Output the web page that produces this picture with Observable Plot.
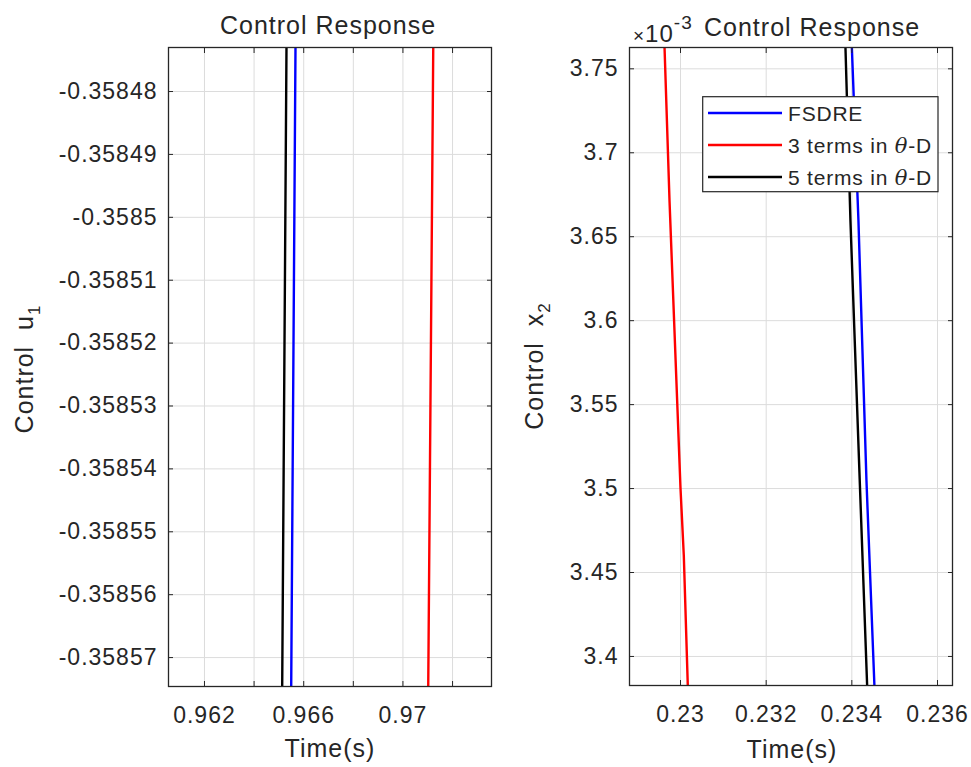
<!DOCTYPE html>
<html><head><meta charset="utf-8">
<script src="https://cdn.jsdelivr.net/npm/d3@7"></script>
<script src="https://cdn.jsdelivr.net/npm/@observablehq/plot@0.6"></script>
<style>
html,body{margin:0;padding:0;background:#fff;}
#wrap{position:relative;width:971px;height:767px;overflow:hidden;background:#fff;}
#wrap svg{position:absolute;top:0;}
svg text{letter-spacing:1px;}
</style></head><body><div id="wrap"></div>
<script>
const seriesNames = ["FSDRE", "3 terms in θ-D", "5 terms in θ-D"];
const seriesColors = ["#0000ff", "#ff0000", "#000000"];

// Left panel: Control u1 vs Time(s)
const u1Value = [-0.358473, -0.3585746];
const u1TimeFSDRE = [0.965669, 0.965496];
const u1Time3 = [0.971222, 0.971020];
const u1Time5 = [0.965306, 0.965133];
const u1XDomain = [0.96055, 0.97357];
const u1YDomain = [-0.3585746, -0.358473];
const u1XTicks = [0.962, 0.964, 0.966, 0.968, 0.970, 0.972];
const u1XTickLabels = ["0.962", "", "0.966", "", "0.97", ""];
const u1YTicks = [-0.35857, -0.35856, -0.35855, -0.35854, -0.35853, -0.35852, -0.35851, -0.3585, -0.35849, -0.35848];
const u1YTickLabels = ["-0.35857", "-0.35856", "-0.35855", "-0.35854", "-0.35853", "-0.35852", "-0.35851", "-0.3585", "-0.35849", "-0.35848"];

// Right panel: Control x2 (×10^-3) vs Time(s)
const x2ValueFSDRE = [3.7627, 3.6597, 3.5049, 3.3827];
const x2TimeFSDRE = [0.234000, 0.234154, 0.234341, 0.234527];
const x2Value3 = [3.7627, 3.6716, 3.5000, 3.4600, 3.3827];
const x2Time3 = [0.229627, 0.229743, 0.230000, 0.230077, 0.230170];
const x2Value5 = [3.7627, 3.6597, 3.5049, 3.3827];
const x2Time5 = [0.233851, 0.233967, 0.234184, 0.234357];
const x2XDomain = [0.228809, 0.23635];
const x2YDomain = [3.3827, 3.7627];
const x2XTicks = [0.230, 0.232, 0.234, 0.236];
const x2XTickLabels = ["0.23", "0.232", "0.234", "0.236"];
const x2YTicks = [3.40, 3.45, 3.50, 3.55, 3.60, 3.65, 3.70, 3.75];
const x2YTickLabels = ["3.4", "3.45", "3.5", "3.55", "3.6", "3.65", "3.7", "3.75"];

function rows(times, values, s) { return times.map((t, i) => ({t, v: values[i], s})); }

const u1Rows = [
  ...rows(u1TimeFSDRE, u1Value, seriesNames[0]),
  ...rows(u1Time3, u1Value, seriesNames[1]),
  ...rows(u1Time5, u1Value, seriesNames[2])
];
const x2Rows = [
  ...rows(x2TimeFSDRE, x2ValueFSDRE, seriesNames[0]),
  ...rows(x2Time3, x2Value3, seriesNames[1]),
  ...rows(x2Time5, x2Value5, seriesNames[2])
];

const FONT = "'Liberation Sans', Arial, Helvetica, sans-serif";
const TXT = "#262626";

function panel(o) {
  const xf = new Map(o.xTicks.map((d, i) => [d, o.xLabels[i]]));
  const yf = new Map(o.yTicks.map((d, i) => [d, o.yLabels[i]]));
  const blank = () => "";
  const svg = Plot.plot({
    width: o.width, height: 767,
    marginLeft: o.ml, marginRight: o.mr, marginTop: o.mt, marginBottom: o.mb,
    style: {fontFamily: FONT, fontSize: "23px", color: TXT, background: "transparent", overflow: "visible"},
    x: {domain: o.xDomain},
    y: {domain: o.yDomain},
    color: {domain: seriesNames, range: seriesColors},
    marks: [
      Plot.gridX(o.xTicks, {stroke: "#dcdcdc", strokeOpacity: 1}),
      Plot.gridY(o.yTicks, {stroke: "#dcdcdc", strokeOpacity: 1}),
      Plot.line(o.rows, {x: "t", y: "v", z: "s", stroke: "s", strokeWidth: 2.4, clip: true}),
      Plot.frame({stroke: TXT, strokeWidth: 1.3}),
      Plot.axisX(o.xTicks, {anchor: "bottom", tickSize: 5, dy: -5, tickFormat: blank, label: null, stroke: TXT}),
      Plot.axisX(o.xTicks, {anchor: "top", tickSize: 5, dy: 5, tickFormat: blank, label: null, stroke: TXT}),
      Plot.axisY(o.yTicks, {anchor: "left", tickSize: 5, dx: 5, tickFormat: blank, label: null, stroke: TXT}),
      Plot.axisY(o.yTicks, {anchor: "right", tickSize: 5, dx: -5, tickFormat: blank, label: null, stroke: TXT}),
      Plot.axisX(o.xTicks, {anchor: "bottom", tickSize: 0, tickPadding: 20, tickFormat: d => xf.get(d), label: null, fill: TXT, fontSize: 23}),
      Plot.axisY(o.yTicks, {anchor: "left", tickSize: 0, tickPadding: 11, tickFormat: d => yf.get(d), label: null, fill: TXT, fontSize: 23})
    ]
  });
  d3.select(svg).selectAll('g[aria-label$="tick label"]')
    .attr("font-size", 23).style("font-size", "23px").style("letter-spacing", "1px");
  return svg;
}

const wrap = document.getElementById("wrap");

const left = panel({rows: u1Rows, xDomain: u1XDomain, yDomain: u1YDomain, xTicks: u1XTicks, xLabels: u1XTickLabels,
  yTicks: u1YTicks, yLabels: u1YTickLabels, width: 500, ml: 168, mr: 9, mt: 47, mb: 81});
left.style.left = "0px";
wrap.appendChild(left);

const right = panel({rows: x2Rows, xDomain: x2XDomain, yDomain: x2YDomain, xTicks: x2XTicks, xLabels: x2XTickLabels,
  yTicks: x2YTicks, yLabels: x2YTickLabels, width: 471, ml: 129, mr: 19, mt: 47, mb: 82});
right.style.left = "500px";
wrap.appendChild(right);

function txt(sel, x, y, s, size, anchor) {
  return sel.append("text").attr("x", x).attr("y", y).attr("font-size", size)
    .attr("text-anchor", anchor || "middle").attr("fill", TXT).attr("font-family", FONT).text(s);
}

// Left annotations
const L = d3.select(left);
txt(L, 328, 34, "Control Response", 25);
txt(L, 330, 757, "Time(s)", 25);
{
  const t = L.append("text").attr("transform", "translate(33,369) rotate(-90)")
    .attr("text-anchor", "middle").attr("font-size", 25).attr("fill", TXT).attr("font-family", FONT);
  t.append("tspan").text("Control\u00a0\u00a0u");
  t.append("tspan").attr("dy", 7).attr("font-size", 17).text("1");
}

// Right annotations
const R = d3.select(right);
{
  const t = R.append("text").attr("x", 133).attr("y", 42).attr("text-anchor", "start")
    .attr("fill", TXT).attr("font-family", FONT).attr("font-size", 24);
  t.append("tspan").attr("font-size", 19).text("×");
  t.append("tspan").text("10");
  t.append("tspan").attr("dy", -13).attr("font-size", 19).text("-3");
}
txt(R, 204, 36, "Control Response", 25, "start");
txt(R, 292, 758, "Time(s)", 25);
{
  const t = R.append("text").attr("transform", "translate(43,366) rotate(-90)")
    .attr("text-anchor", "middle").attr("font-size", 25).attr("fill", TXT).attr("font-family", FONT);
  t.append("tspan").text("Control\u00a0\u00a0x");
  t.append("tspan").attr("dy", 7).attr("font-size", 17).text("2");
}
// Legend
{
  const g = R.append("g");
  g.append("rect").attr("x", 202.7).attr("y", 96.7).attr("width", 235.3).attr("height", 95)
    .attr("fill", "#fff").attr("stroke", TXT).attr("stroke-width", 1.2);
  const ys = [113, 145, 177];
  seriesNames.forEach((name, i) => {
    g.append("line").attr("x1", 208).attr("x2", 282).attr("y1", ys[i]).attr("y2", ys[i])
      .attr("stroke", seriesColors[i]).attr("stroke-width", 2.4);
    const t = g.append("text").attr("x", 288).attr("y", ys[i] + 8).attr("font-size", 21)
      .attr("text-anchor", "start").attr("fill", TXT).attr("font-family", FONT).style("letter-spacing", "0.8px");
    const parts = name.split("θ");
    t.append("tspan").text(parts[0]);
    if (parts.length > 1) {
      t.append("tspan").attr("font-style", "italic").attr("font-family", "'DejaVu Serif', serif").text("θ");
      t.append("tspan").text(parts[1]);
    }
  });
}
</script></body></html>
